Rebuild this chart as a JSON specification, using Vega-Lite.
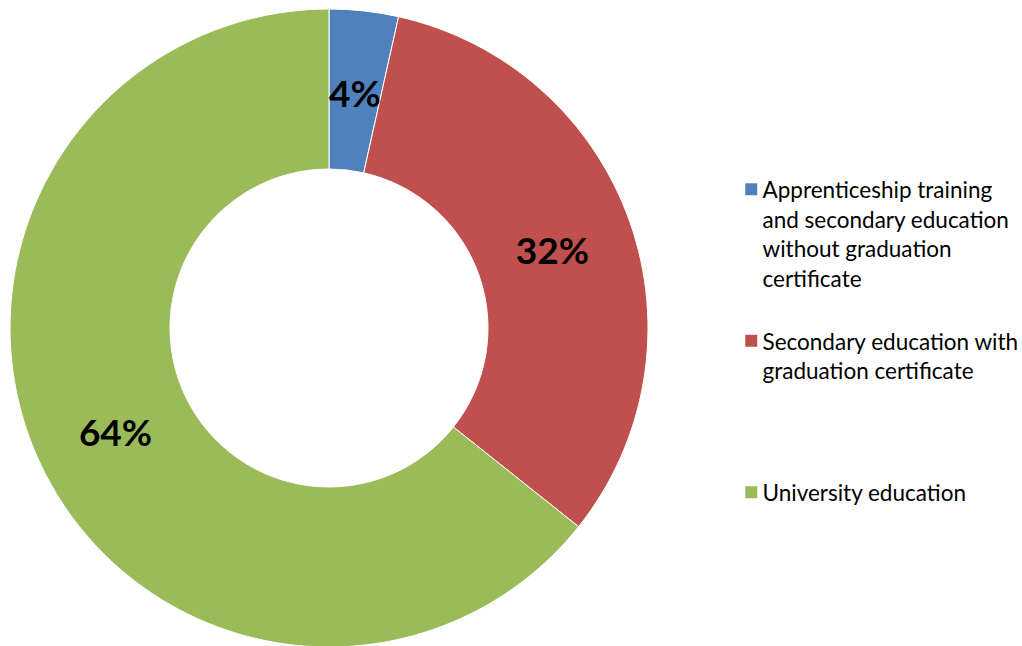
{
  "$schema": "https://vega.github.io/schema/vega-lite/v6.json",
  "width": 658,
  "height": 646,
  "padding": 0,
  "autosize": {"type": "pad"},
  "background": "white",
  "config": {"view": {"stroke": null}, "style": {"guide-label": {"lineHeight": 29.5, "dy": -9}}},
  "data": {"values": [
    {"category": "Apprenticeship training and secondary education without graduation certificate", "value": 3.5, "label": "4%", "order": 1},
    {"category": "Secondary education with graduation certificate", "value": 32.2, "label": "32%", "order": 2},
    {"category": "University education", "value": 64.3, "label": "64%", "order": 3}
  ]},
  "encoding": {
    "theta": {"field": "value", "type": "quantitative", "stack": true},
    "order": {"field": "order", "type": "quantitative"}
  },
  "layer": [
    {
      "mark": {"type": "arc", "outerRadius": 319, "innerRadius": 159, "stroke": "white", "strokeWidth": 1, "yOffset": 5},
      "encoding": {
        "color": {
          "field": "category", "type": "nominal",
          "scale": {
            "domain": ["Apprenticeship training and secondary education without graduation certificate", "Secondary education with graduation certificate", "University education"],
            "range": ["#4F81BD", "#C0504D", "#9BBB59"]
          },
          "legend": {
            "orient": "none", "legendX": 740, "legendY": 178, "title": null, "padding": 0,
            "symbolType": "square", "symbolSize": 144, "symbolStrokeWidth": 0,
            "labelFont": "Lato", "labelFontSize": 22.5, "labelColor": "black",
            "labelOffset": 0, "labelLimit": 400, "rowPadding": 8.5, "labelBaseline": "top",
            "labelExpr": "datum.value == 'University education' ? ['University education','','','',''] : datum.value == 'Secondary education with graduation certificate' ? ['Secondary education with','graduation certificate','','',''] : ['Apprenticeship training','and secondary education','without graduation','certificate','']"
          }
        }
      }
    },
    {
      "mark": {"type": "text", "radius": 237, "font": "Lato", "fontWeight": "bold", "fontSize": 37, "yOffset": 9, "color": "black"},
      "encoding": {"text": {"field": "label"}}
    }
  ]
}
